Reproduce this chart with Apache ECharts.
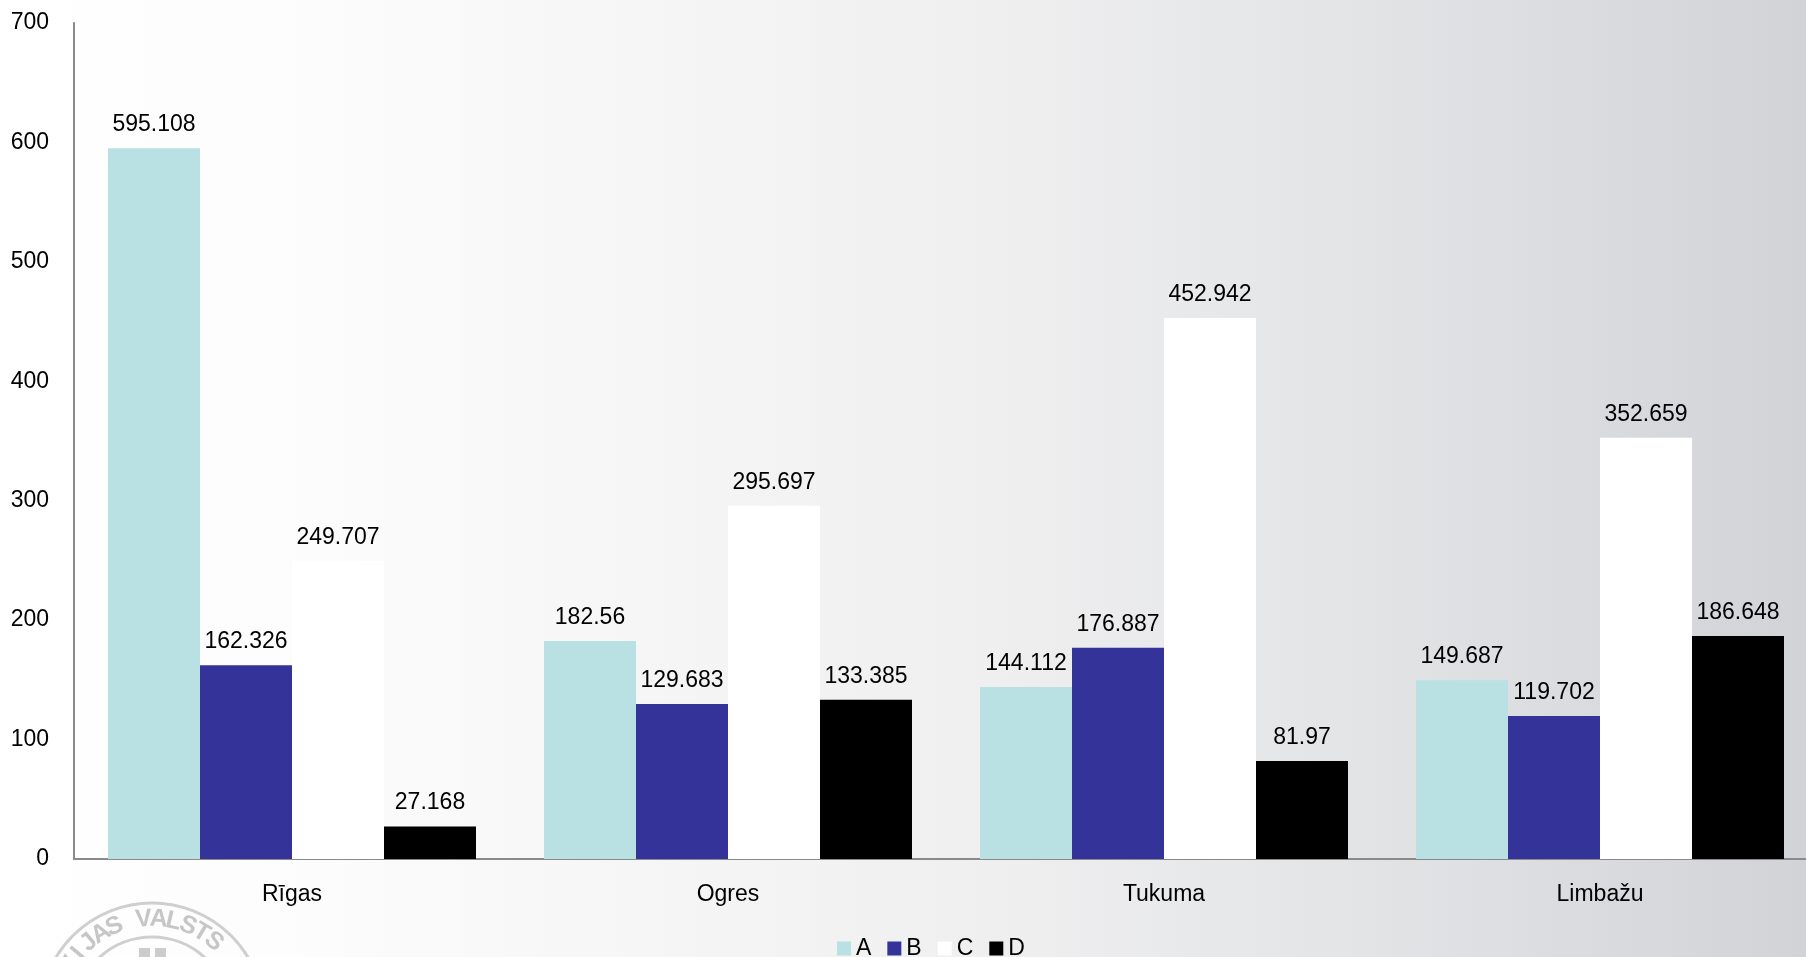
<!DOCTYPE html>
<html>
<head>
<meta charset="utf-8">
<script src="https://cdn.jsdelivr.net/npm/echarts@6/dist/echarts.min.js"></script>
<style>
html,body{margin:0;padding:0;background:#fff;}
#chart{width:1806px;height:957px;}
</style>
</head>
<body>
<div id="chart"></div>
<script>
const categories = ['Rīgas', 'Ogres', 'Tukuma', 'Limbažu'];
const seriesNames = ['A', 'B', 'C', 'D'];
const valuesA = [595.108, 182.56, 144.112, 149.687];
const valuesB = [162.326, 129.683, 176.887, 119.702];
const valuesC = [249.707, 295.697, 452.942, 352.659];
const valuesD = [27.168, 133.385, 81.97, 186.648];
const yTicks = [0, 100, 200, 300, 400, 500, 600, 700];
const colors = ['#b9e0e3', '#333399', '#ffffff', '#000000'];
const sealText = 'LATVIJAS VALSTS ARHĪVS';

const FONT = '"Liberation Sans", Arial, sans-serif';
const FS = 23;
const chart = echarts.init(document.getElementById('chart'), null, {renderer: 'canvas'});

const allValues = [valuesA, valuesB, valuesC, valuesD];
const series = seriesNames.map((n, i) => ({
  name: n,
  type: 'bar',
  data: allValues[i],
  barWidth: 92,
  barGap: '0%',
  itemStyle: {color: colors[i]},
  label: {
    show: true,
    position: 'top',
    distance: 12,
    color: '#000',
    fontSize: FS,
    fontFamily: FONT
  }
}));

// seal watermark (decorative)
const cx = 152, cy = 1015;
const sealEls = [
  {type: 'circle', shape: {cx: cx, cy: cy, r: 112}, style: {fill: 'none', stroke: '#cfcfcf', lineWidth: 3}, silent: true, z: 0},
  {type: 'circle', shape: {cx: cx, cy: cy, r: 78}, style: {fill: 'none', stroke: '#cfcfcf', lineWidth: 3}, silent: true, z: 0},
  {type: 'rect', shape: {x: 139, y: 948, width: 11, height: 10}, style: {fill: '#cccccc'}, silent: true, z: 0},
  {type: 'rect', shape: {x: 155, y: 948, width: 11, height: 10}, style: {fill: '#cccccc'}, silent: true, z: 0}
];
for (let i = 0; i < sealText.length; i++) {
  const ch = sealText[i];
  if (ch === ' ') continue;
  const deg = -5 + 9 * (i - 9);
  const th = deg * Math.PI / 180;
  sealEls.push({
    type: 'text',
    x: cx + 96 * Math.sin(th),
    y: cy - 96 * Math.cos(th),
    rotation: -th,
    silent: true,
    z: 0,
    style: {
      text: ch,
      fill: '#c6c6c6',
      font: 'bold 25px ' + FONT,
      align: 'center',
      verticalAlign: 'middle'
    }
  });
}

const option = {
  animation: false,
  backgroundColor: {
    type: 'linear', x: 0, y: 0, x2: 1, y2: 0,
    colorStops: [
      {offset: 0, color: '#ffffff'},
      {offset: 0.17, color: '#fcfcfc'},
      {offset: 0.55, color: '#efeff0'},
      {offset: 0.75, color: '#e3e4e6'},
      {offset: 1, color: '#d2d3d7'}
    ]
  },
  graphic: {elements: sealEls},
  grid: {left: 74, top: 23, width: 1744, height: 836, containLabel: false, outerBoundsMode: 'none'},
  legend: {
    data: seriesNames,
    left: 837,
    top: 937,
    padding: 0,
    itemWidth: 14,
    itemHeight: 14,
    itemGap: 16,
    icon: 'rect',
    textStyle: {fontSize: FS, fontFamily: FONT, color: '#000'}
  },
  xAxis: {
    type: 'category',
    data: categories,
    axisTick: {show: false},
    axisLine: {show: true, lineStyle: {color: '#8a8a8a', width: 2}},
    axisLabel: {fontSize: FS, fontFamily: FONT, color: '#000', margin: 24}
  },
  yAxis: {
    type: 'value',
    min: yTicks[0],
    max: yTicks[yTicks.length - 1],
    interval: yTicks[1] - yTicks[0],
    axisLine: {show: true, lineStyle: {color: '#8a8a8a', width: 2}},
    axisTick: {show: false},
    splitLine: {show: false},
    axisLabel: {fontSize: FS, fontFamily: FONT, color: '#000', margin: 25}
  },
  series: series
};
chart.setOption(option);
</script>
</body>
</html>
